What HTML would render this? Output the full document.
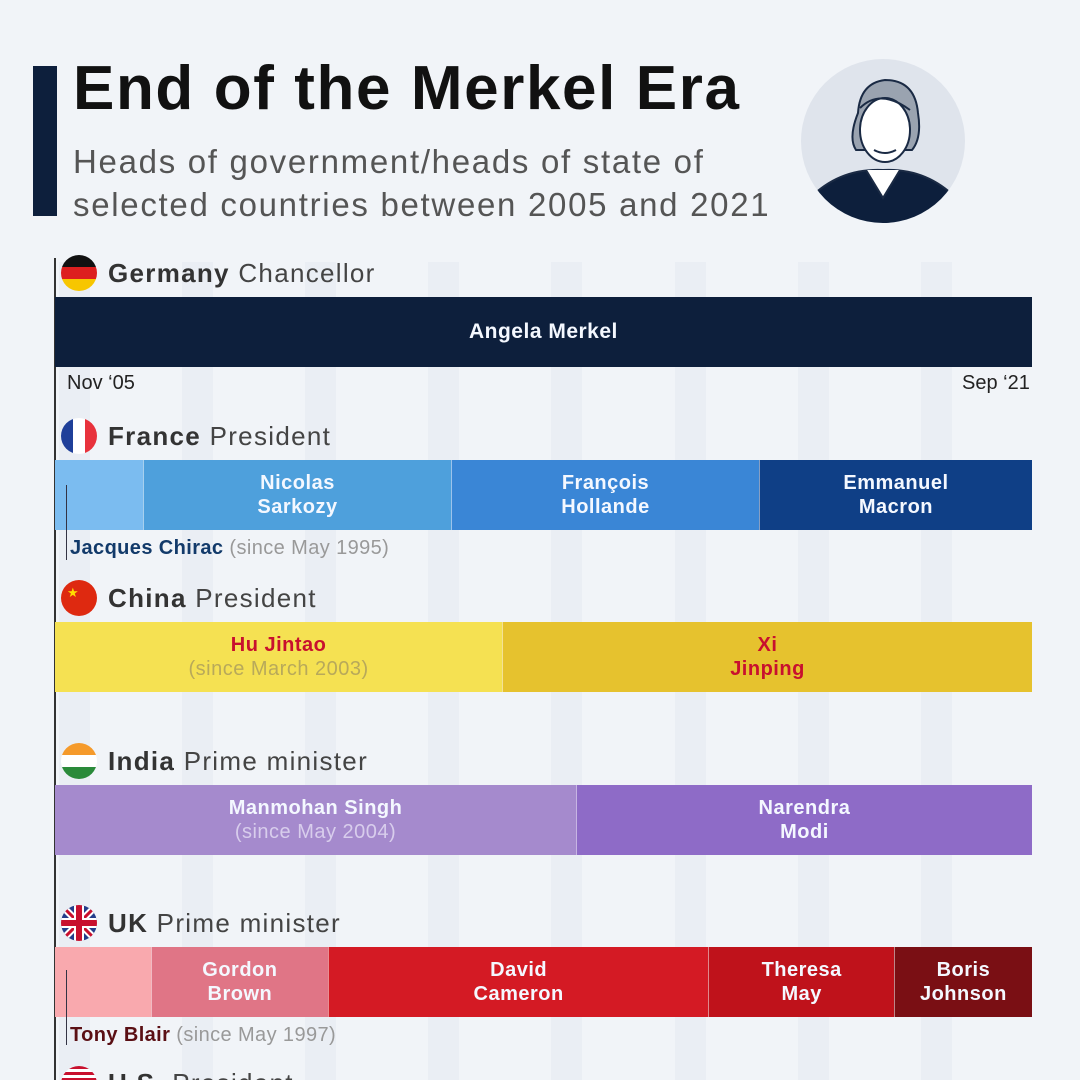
<!DOCTYPE html>
<html><head><meta charset="utf-8">
<style>
html,body{margin:0;width:1080px;height:1080px;overflow:hidden}
body{background:#f1f4f8;font-family:"Liberation Sans","DejaVu Sans",sans-serif;position:relative}
.abs{position:absolute}
.stripe{position:absolute;top:262px;height:818px;background:#eaeef4}
.hdr{position:absolute;left:108px;font-size:26px;color:#444;white-space:nowrap;line-height:30px;letter-spacing:1.3px}
.hdr b{color:#333;font-weight:600}
.flag{position:absolute;left:61px;width:36px;height:36px;border-radius:50%;overflow:hidden}
.seg{position:absolute;display:flex;align-items:center;justify-content:center;text-align:center;font-size:20px;line-height:24px;font-weight:bold;letter-spacing:0.5px;color:#f4f8ff;box-sizing:border-box;border-left:1px solid rgba(255,255,255,.5)}
.sub{font-weight:normal}
.note{position:absolute;left:70px;font-size:20px;white-space:nowrap;letter-spacing:0.4px}
.note span{color:#999}
</style></head><body>
<div id="stripes"></div>
<div class="abs" style="left:33px;top:66px;width:24px;height:150px;background:#0d1f3c"></div>
<div class="abs" style="left:73px;top:53px;font-size:62px;font-weight:bold;color:#111;white-space:nowrap;letter-spacing:1.6px">End of the Merkel Era</div>
<div class="abs" style="left:73px;top:140px;font-size:33px;line-height:43px;color:#555;letter-spacing:1.7px;white-space:nowrap">Heads of government/heads of state of<br>selected countries between 2005 and 2021</div>
<svg class="abs" style="left:800px;top:58px" width="166" height="166" viewBox="0 0 166 166">
<circle cx="83" cy="83" r="82" fill="#dfe4ec"/>
<clipPath id="c"><circle cx="83" cy="83" r="82"/></clipPath>
<g clip-path="url(#c)" stroke="#1a2a44" stroke-width="2">
<path d="M10 140 Q40 110 83 112 Q126 110 156 140 L160 170 L6 170Z" fill="#0d1f3c"/>
<path d="M66 112 L83 140 L100 112" fill="#fff"/>
<path d="M58 55 Q60 25 85 22 Q115 22 118 55 Q122 80 112 92 L56 92 Q48 80 58 55Z" fill="#9aa3b0"/>
<ellipse cx="85" cy="72" rx="25" ry="32" fill="#fff"/>
<path d="M60 50 Q80 30 110 52" fill="none"/>
<path d="M74 92 Q85 98 96 92" fill="none"/>
</g></svg>
<div class="abs" style="left:54px;top:258px;width:2px;height:822px;background:#333"></div>
<div id="chart"></div>
<script>
const countries=["Germany","France","China","India","UK"];
const roles=["Chancellor","President","President","Prime minister","Prime minister"];
const leaders=[
 [["Angela Merkel","",2005.85,2021.8,"#0d1f3c"]],
 [["","",2005.85,2007.37,"#7bbcf0"],["Nicolas<br>Sarkozy","",2007.37,2012.37,"#4ea0dc"],["François<br>Hollande","",2012.37,2017.37,"#3a86d6"],["Emmanuel<br>Macron","",2017.37,2021.8,"#0f3f86"]],
 [["Hu Jintao","(since March 2003)",2005.85,2013.2,"#f5e152"],["Xi<br>Jinping","",2013.2,2021.8,"#e6c22e"]],
 [["Manmohan Singh","(since May 2004)",2005.85,2014.4,"#a58acd"],["Narendra<br>Modi","",2014.4,2021.8,"#8e6bc7"]],
 [["","",2005.85,2007.5,"#f9a9ae"],["Gordon<br>Brown","",2007.5,2010.37,"#e07586"],["David<br>Cameron","",2010.37,2016.55,"#d41a24"],["Theresa<br>May","",2016.55,2019.56,"#bf121b"],["Boris<br>Johnson","",2019.56,2021.8,"#7a0f14"]]
];
const years=[2006,2007,2008,2009,2010,2011,2012,2013,2014,2015,2016,2017,2018,2019,2020,2021];
const X=t=>Math.max(55,Math.min(1032,143+(t-2007.37)*61.6));
const st=document.getElementById('stripes');
years.forEach((y,i)=>{if(i%2==0){const d=document.createElement('div');d.className='stripe';


d.style.left=X(y+0.0)+'px';d.style.width='31px';st.appendChild(d);}});
const ch=document.getElementById('chart');
const flags={Germany:'linear-gradient(#111 33%,#dd1f1f 33% 66%,#f7c600 66%)',France:'linear-gradient(90deg,#1f3f99 33%,#fff 33% 66%,#e8323c 66%)',China:'#de2910',India:'linear-gradient(#f59a2b 33%,#fff 33% 66%,#2a8a3a 66%)',UK:'#233d8a'};
const tops=[297,460,622,785,947];
const txtCol=[null,null,"#c8102e",null,null];
countries.forEach((c,i)=>{
 const t=tops[i];
 const f=document.createElement('div');f.className='flag';f.style.top=(t-42)+'px';f.style.background=flags[c];
 
 
 if(c==='UK')f.innerHTML='<svg width="36" height="36"><path d="M0 0L36 36M36 0L0 36" stroke="#fff" stroke-width="7"/><path d="M0 0L36 36M36 0L0 36" stroke="#c8102e" stroke-width="3"/><path d="M18 0V36M0 18H36" stroke="#fff" stroke-width="10"/><path d="M18 0V36M0 18H36" stroke="#c8102e" stroke-width="6"/></svg>';
 if(c==='China')f.innerHTML='<span style="color:#ffde00;font-size:13px;position:absolute;left:6px;top:5px">★</span>';
 ch.appendChild(f);
 const h=document.createElement('div');h.className='hdr';h.style.top=(t-39)+'px';h.innerHTML='<b>'+c+'</b> '+roles[i];
 
 
 ch.appendChild(h);
 leaders[i].forEach(L=>{
  const s=document.createElement('div');s.className='seg';
  
  
  const x0=X(L[2]),x1=X(L[3]);
  s.style.left=x0+'px';s.style.width=(x1-x0)+'px';s.style.top=t+'px';s.style.height='70px';s.style.background=L[4];
  if(x0<=55)s.style.borderLeft='none';
  if(txtCol[i])s.style.color=txtCol[i];
  if(i===0){s.style.fontWeight='600';s.style.fontSize='21px';}
  s.innerHTML='<div>'+L[0]+(L[1]?'<br><span class="sub" style="color:'+(i==2?'#b8a95a':'#d8cdec')+'">'+L[1]+'</span>':'')+'</div>';
  ch.appendChild(s);
 });
});
</script>
<div class="abs" style="left:67px;top:372px;font-size:20px;color:#222">Nov ‘05</div>
<div class="abs" style="left:962px;top:372px;font-size:20px;color:#222">Sep ‘21</div>
<div class="abs" style="left:66px;top:485px;width:1px;height:75px;background:#334"></div>
<div class="note" style="top:537px;color:#123a6a"><b>Jacques Chirac</b> <span>(since May 1995)</span></div>
<div class="abs" style="left:66px;top:970px;width:1px;height:75px;background:#334"></div>
<div class="note" style="top:1024px;color:#5a0f14"><b>Tony Blair</b> <span>(since May 1997)</span></div>
<div class="flag" style="top:1066px;background:repeating-linear-gradient(#c8102e 0 3px,#fff 3px 6px)"></div>
<div class="hdr" style="top:1068px"><b>U.S.</b> President</div>
</body></html>
